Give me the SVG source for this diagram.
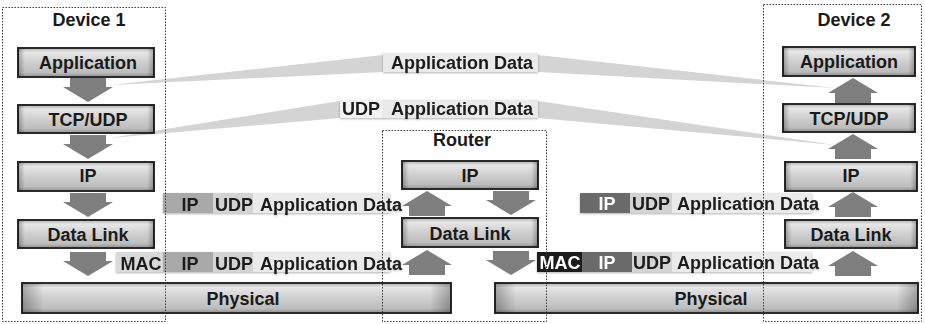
<svg xmlns="http://www.w3.org/2000/svg" width="925" height="324" viewBox="0 0 925 324">
<defs>
<style>
text{font-family:"Liberation Sans",Arial,Helvetica,sans-serif;font-weight:bold;font-size:18px;fill:#1a1a1a}
.c{text-anchor:middle}
.w{fill:#ffffff}
.box{fill:url(#gv);stroke:#2a2a2a;stroke-width:2}
.boxh{fill:url(#gh);stroke:none}
.frame{fill:none;stroke:#3a3a3a;stroke-width:1;stroke-dasharray:1.5 1.5}
.arr{fill:#7e7e7e}
.wedge{fill:#d4d4d4}
.sIP{fill:#a9a9a9}
.sIPd{fill:#6a6a6a}
.sMAC{fill:#d9d9d9}
.sMACd{fill:#1e1e1e}
.sUDP{fill:#d3d3d3}
.sUDPt{fill:#f2f2f2}
.sAPP{fill:#eaeaea}
</style>
<linearGradient id="gv" x1="0" y1="0" x2="0" y2="1">
<stop offset="0" stop-color="#b0b0b0"/>
<stop offset="0.15" stop-color="#e6e6e6"/>
<stop offset="0.5" stop-color="#cfcfcf"/>
<stop offset="0.85" stop-color="#bcbcbc"/>
<stop offset="1" stop-color="#8e8e8e"/>
</linearGradient>
<linearGradient id="gh" x1="0" y1="0" x2="1" y2="0">
<stop offset="0" stop-color="#000" stop-opacity="0.28"/>
<stop offset="0.05" stop-color="#000" stop-opacity="0"/>
<stop offset="0.95" stop-color="#000" stop-opacity="0"/>
<stop offset="1" stop-color="#000" stop-opacity="0.28"/>
</linearGradient>
<filter id="sh" x="-5%" y="-20%" width="110%" height="150%">
<feDropShadow dx="0" dy="1" stdDeviation="1" flood-color="#000" flood-opacity="0.3"/>
</filter>
<path id="down" d="M-18,0 H18 V9 H25 L0,24 L-25,9 H-18 Z"/>
<path id="up" d="M-18,25 H18 V15 H25 L0,0 L-25,15 H-18 Z"/>
</defs>
<rect width="925" height="324" fill="#ffffff"/>

<g id="connectors">
<path class="wedge" d="M110,85 L383,55 L383,72 Z"/>
<path class="wedge" d="M538,55 L538,72 L835,88 Z"/>
<path class="wedge" d="M110,138 L340,101 L340,118 Z"/>
<path class="wedge" d="M538,101 L538,118 L835,145 Z"/>
<use href="#down" class="arr" x="88" y="78"/>
<use href="#down" class="arr" x="88" y="135"/>
<use href="#down" class="arr" x="88" y="193"/>
<use href="#down" class="arr" x="88" y="252"/>
<use href="#up" class="arr" x="427" y="191"/>
<use href="#up" class="arr" x="427" y="250"/>
<use href="#down" class="arr" x="511" y="191"/>
<use href="#down" class="arr" x="511" y="251"/>
<use href="#up" class="arr" x="853" y="78"/>
<use href="#up" class="arr" x="853" y="134"/>
<use href="#up" class="arr" x="853" y="192"/>
<use href="#up" class="arr" x="853" y="251"/>
</g>

<g id="pkt-top-app" filter="url(#sh)">
<rect class="sAPP" x="383" y="53" width="155" height="19"/>
<text class="c" x="462" y="69">Application Data</text>
</g>
<g id="pkt-top-udp" filter="url(#sh)">
<rect class="sUDPt" x="340" y="100" width="42" height="18"/>
<rect class="sAPP" x="382" y="100" width="156" height="18"/>
<text class="c" x="361" y="115">UDP</text>
<text class="c" x="462" y="115">Application Data</text>
</g>
<g id="pkt-left-ip" filter="url(#sh)">
<rect class="sIP" x="163" y="193" width="50" height="20"/>
<rect class="sUDP" x="213" y="193" width="40" height="20"/>
<rect class="sAPP" x="253" y="193" width="137" height="20"/>
<text class="c" x="190" y="211">IP</text>
<text x="215" y="211">UDP</text>
<text x="260" y="211">Application Data</text>
</g>
<g id="pkt-left-mac" filter="url(#sh)">
<rect class="sMAC" x="116" y="252" width="47" height="20"/>
<rect class="sIP" x="163" y="252" width="50" height="20"/>
<rect class="sUDP" x="213" y="252" width="40" height="20"/>
<rect class="sAPP" x="253" y="252" width="137" height="20"/>
<text class="c" x="141" y="270">MAC</text>
<text class="c" x="190" y="270">IP</text>
<text x="215" y="270">UDP</text>
<text x="260" y="270">Application Data</text>
</g>
<g id="pkt-right-ip" filter="url(#sh)">
<rect class="sIPd" x="580" y="193" width="50" height="20"/>
<rect class="sUDP" x="630" y="193" width="42" height="20"/>
<rect class="sAPP" x="672" y="193" width="140" height="20"/>
<text class="c w" x="607" y="210">IP</text>
<text x="632" y="210">UDP</text>
<text x="677" y="210">Application Data</text>
</g>
<g id="pkt-right-mac" filter="url(#sh)">
<rect class="sMACd" x="537" y="252" width="45" height="20"/>
<rect class="sIPd" x="582" y="252" width="50" height="20"/>
<rect class="sUDP" x="632" y="252" width="40" height="20"/>
<rect class="sAPP" x="672" y="252" width="140" height="20"/>
<text class="c w" x="560" y="269">MAC</text>
<text class="c w" x="607" y="269">IP</text>
<text x="633" y="269">UDP</text>
<text x="677" y="269">Application Data</text>
</g>

<g id="d1-app"><rect class="box" x="18" y="48" width="136" height="29"/><rect class="boxh" x="18" y="48" width="136" height="29"/><text class="c" x="88" y="69">Application</text></g>
<g id="d1-tcp"><rect class="box" x="18" y="105" width="136" height="28"/><rect class="boxh" x="18" y="105" width="136" height="28"/><text class="c" x="88" y="126">TCP/UDP</text></g>
<g id="d1-ip"><rect class="box" x="18" y="162" width="136" height="29"/><rect class="boxh" x="18" y="162" width="136" height="29"/><text class="c" x="88" y="182">IP</text></g>
<g id="d1-dl"><rect class="box" x="18" y="220" width="136" height="28"/><rect class="boxh" x="18" y="220" width="136" height="28"/><text class="c" x="88" y="241">Data Link</text></g>
<g id="phys1"><rect class="box" x="22" y="283" width="429" height="30"/><rect class="boxh" x="22" y="283" width="429" height="30"/><text class="c" x="243" y="305">Physical</text></g>

<g id="r-ip"><rect class="box" x="402" y="161" width="136" height="28"/><rect class="boxh" x="402" y="161" width="136" height="28"/><text class="c" x="470" y="182">IP</text></g>
<g id="r-dl"><rect class="box" x="402" y="218" width="136" height="29"/><rect class="boxh" x="402" y="218" width="136" height="29"/><text class="c" x="470" y="240">Data Link</text></g>
<g id="phys2"><rect class="box" x="495" y="283" width="423" height="30"/><rect class="boxh" x="495" y="283" width="423" height="30"/><text class="c" x="711" y="305">Physical</text></g>

<g id="d2-app"><rect class="box" x="783" y="47" width="132" height="29"/><rect class="boxh" x="783" y="47" width="132" height="29"/><text class="c" x="849" y="68">Application</text></g>
<g id="d2-tcp"><rect class="box" x="783" y="104" width="132" height="28"/><rect class="boxh" x="783" y="104" width="132" height="28"/><text class="c" x="849" y="125">TCP/UDP</text></g>
<g id="d2-ip"><rect class="box" x="785" y="162" width="132" height="29"/><rect class="boxh" x="785" y="162" width="132" height="29"/><text class="c" x="851" y="182">IP</text></g>
<g id="d2-dl"><rect class="box" x="785" y="220" width="132" height="28"/><rect class="boxh" x="785" y="220" width="132" height="28"/><text class="c" x="851" y="241">Data Link</text></g>

<g id="device1"><rect class="frame" x="2.5" y="7.5" width="163" height="314"/><text class="c" x="89" y="26">Device 1</text></g>
<g id="router"><rect class="frame" x="382.5" y="130.5" width="164" height="191"/><text class="c" x="462" y="146">Router</text></g>
<g id="device2"><rect class="frame" x="763.5" y="4.5" width="158" height="317"/><text class="c" x="854" y="26">Device 2</text></g>
</svg>
